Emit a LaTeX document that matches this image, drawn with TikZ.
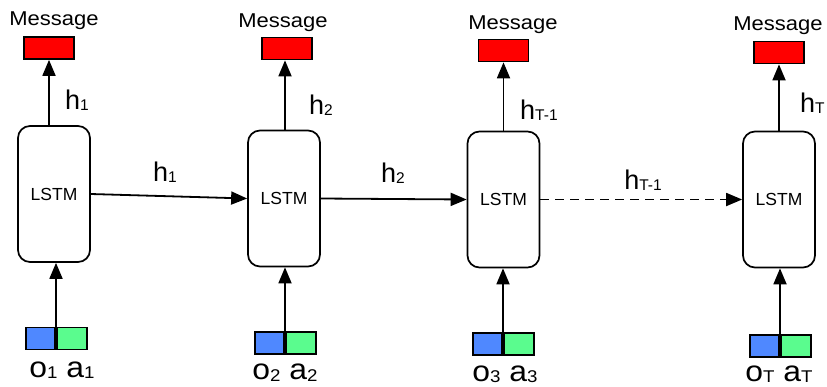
\documentclass[tikz,border=0pt]{standalone}
\usepackage{fontspec}
\setmainfont{Liberation Sans}
\newfontfamily\widefont{Liberation Sans}[FakeStretch=1.1]
\usetikzlibrary{arrows.meta}
\definecolor{msgred}{RGB}{255,0,0}
\definecolor{obsblue}{RGB}{79,136,255}
\definecolor{actgreen}{RGB}{90,252,142}
% subscript helpers
\newcommand\hsub[1]{\raisebox{-1.5pt}{\fontsize{15.5}{15.5}\selectfont #1}}
\newcommand\isub[1]{\raisebox{-1.5pt}{\fontsize{17}{17}\selectfont #1}}
\begin{document}
\begin{tikzpicture}[x=1pt,y=-1pt,
  lstm/.style={draw,line width=1.7pt,rounded corners=12pt,minimum width=72pt,minimum height=136pt,inner sep=0pt,font=\fontsize{17.5}{17.5}\selectfont},
  msgbox/.style={draw,line width=1.7pt,fill=msgred,minimum width=50pt,minimum height=22pt,inner sep=0pt},
  obsbox/.style={draw,line width=1.7pt,fill=obsblue,minimum width=29pt,minimum height=22pt,inner sep=0pt},
  actbox/.style={draw,line width=1.7pt,fill=actgreen,minimum width=30pt,minimum height=22pt,inner sep=0pt},
  msgtext/.style={font=\widefont\fontsize{20}{20}\selectfont,inner sep=0pt},
  hlbl/.style={font=\fontsize{27}{27}\selectfont,inner sep=0pt},
  inlbl/.style={font=\widefont\fontsize{29}{29}\selectfont,inner sep=0pt,anchor=base},
  arr/.style={line width=1.8pt,-{Triangle[length=16pt,width=13pt]}}]
\useasboundingbox (0,0) rectangle (827,386);

% LSTM cells
\node[lstm] (L1) at (54,194) {LSTM};
\node[lstm] (L2) at (284,198.5) {LSTM};
\node[lstm] (L3) at (503.5,199.5) {LSTM};
\node[lstm] (L4) at (779,199.5) {LSTM};

% message outputs
\node[msgbox] (M1) at (49,48) {};
\node[msgbox] (M2) at (287,48.5) {};
\node[msgbox] (M3) at (503.5,50.5) {};
\node[msgbox] (M4) at (779,52.5) {};
\node[msgtext] (T1) at (54,21) {Message};
\node[msgtext] (T2) at (283,23) {Message};
\node[msgtext] (T3) at (513,25) {Message};
\node[msgtext] (T4) at (778,26) {Message};

% observation / action inputs
\node[obsbox,anchor=east] (O1) at (56,338.5) {};
\node[actbox,anchor=west] (A1) at (56,338.5) {};
\node[obsbox,anchor=east] (O2) at (285,343) {};
\node[actbox,anchor=west] (A2) at (285,343) {};
\node[obsbox,anchor=east] (O3) at (503,344) {};
\node[actbox,anchor=west] (A3) at (503,344) {};
\node[obsbox,anchor=east] (O4) at (780,346) {};
\node[actbox,anchor=west] (A4) at (780,346) {};

\node[inlbl] (I1) at (62,377) {o\isub{1} a\isub{1}};
\node[inlbl] (I2) at (285,379.5) {o\isub{2} a\isub{2}};
\node[inlbl] (I3) at (505,381) {o\isub{3} a\isub{3}};
\node[inlbl] (I4) at (779,381) {o\isub{T} a\isub{T}};

% input arrows
\draw[arr] (O1.north east) -- (L1.south -| O1.north east);
\draw[arr] (O2.north east) -- (L2.south -| O2.north east);
\draw[arr] (O3.north east) -- (L3.south -| O3.north east);
\draw[arr] (O4.north east) -- (L4.south -| O4.north east);

% output arrows
\draw[arr] (L1.north -| M1.south) -- (M1.south);
\draw[arr] (L2.north -| 285,0) -- (M2.south -| 285,0);
\draw[arr] (L3.north -| M3.south) -- (M3.south);
\draw[arr] (L4.north -| M4.south) -- (M4.south);
\node[hlbl,anchor=west] (H1) at (65,100) {h\hsub{1}};
\node[hlbl,anchor=west] (H2) at (309,105) {h\hsub{2}};
\node[hlbl,anchor=west] (H3) at (520,110) {h\hsub{T-1}};
\node[hlbl,anchor=west] (H4) at (800,103) {h\hsub{T}};

% recurrent connections
\draw[arr] (L1.east) -- (L2.west);
\draw[arr] (L2.east) -- (L3.west);
\draw[arr,dash pattern=on 9pt off 6pt] (L3.east) -- (L4.west);
\node[hlbl] (R1) at (165,172) {h\hsub{1}};
\node[hlbl] (R2) at (393,173) {h\hsub{2}};
\node[hlbl] (R3) at (643,180) {h\hsub{T-1}};
\end{tikzpicture}
\end{document}
